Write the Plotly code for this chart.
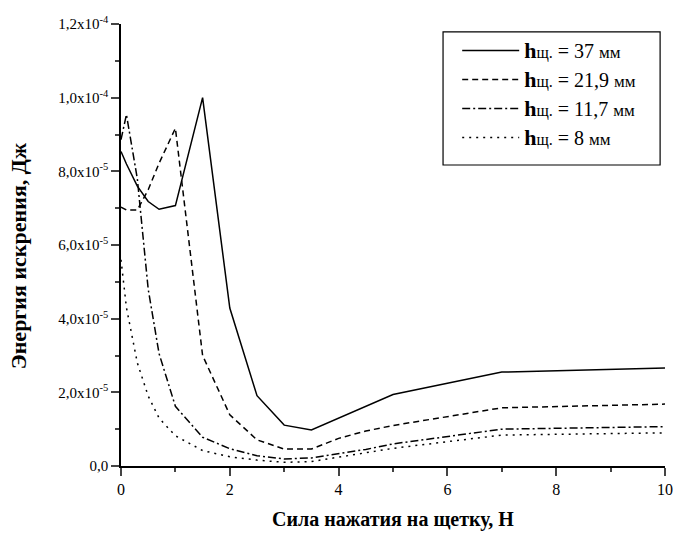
import plotly.graph_objects as go

# Force on brush, N
x_vals = [0, 0.1, 0.3, 0.5, 0.7, 1.0, 1.5, 2.0, 2.5, 3.0, 3.5, 4.0, 4.5, 5.0, 7.0, 10.0]

# Spark energy, J (in units of 1e-5)
h37   = [8.54, 8.2, 7.6, 7.18, 6.97, 7.07, 10.0, 4.29, 1.91, 1.11, 0.98, 1.30, 1.63, 1.94, 2.55, 2.66]
h21_9 = [7.03, 6.95, 6.95, 7.5, 8.22, 9.17, 3.0, 1.39, 0.71, 0.46, 0.46, 0.75, 0.95, 1.10, 1.58, 1.68]
h11_7 = [8.86, 9.54, 7.8, 4.8, 3.05, 1.62, 0.78, 0.47, 0.28, 0.19, 0.22, 0.33, 0.45, 0.60, 1.00, 1.07]
h8    = [5.6, 4.3, 2.8, 1.9, 1.3, 0.82, 0.42, 0.25, 0.16, 0.10, 0.12, 0.24, 0.36, 0.48, 0.84, 0.90]

series_h = ["37", "21,9", "11,7", "8"]
series_vals = [h37, h21_9, h11_7, h8]
dashes = ["solid", "6px,4px", "8px,3px,2px,3px", "2px,5px"]

y_tickvals = [0, 2e-5, 4e-5, 6e-5, 8e-5, 1.0e-4, 1.2e-4]
y_ticktext = ["0,0", "2,0x10<sup>-5</sup>", "4,0x10<sup>-5</sup>", "6,0x10<sup>-5</sup>",
              "8,0x10<sup>-5</sup>", "1,0x10<sup>-4</sup>", "1,2x10<sup>-4</sup>"]
x_tickvals = [0, 2, 4, 6, 8, 10]

FONT = "Liberation Serif, Times New Roman, serif"

fig = go.Figure()
for h, vals, d in zip(series_h, series_vals, dashes):
    label = ("<span style='font-size:22px'><b>h</b></span>"
             "<span style='font-size:16px'>щ.</span> = " + h +
             " <span style='font-size:17px'>мм</span>")
    fig.add_trace(go.Scatter(
        x=x_vals, y=[v * 1e-5 for v in vals], mode="lines",
        line=dict(color="black", width=1.5, dash=d),
        name=label,
    ))

# legend frame
fig.add_shape(type="rect", xref="paper", yref="paper",
              x0=0.592, x1=0.991, y0=0.681, y1=0.982,
              line=dict(color="black", width=1.2), fillcolor="rgba(0,0,0,0)")

fig.update_layout(
    width=673, height=534,
    margin=dict(l=121, r=8, t=24, b=68),
    paper_bgcolor="white", plot_bgcolor="white",
    font=dict(family=FONT, color="black", size=15),
    showlegend=True,
    legend=dict(
        x=0.618, y=0.984, xanchor="left", yanchor="top",
        borderwidth=0, bgcolor="rgba(0,0,0,0)",
        font=dict(family=FONT, size=20, color="black"),
        tracegroupgap=0, itemwidth=57,
    ),
    xaxis=dict(
        range=[0, 10], tickvals=x_tickvals, ticks="outside", ticklen=8,
        tickwidth=1.5, showline=True, linecolor="black", linewidth=1.5,
        showgrid=False, zeroline=False, tickfont=dict(size=16), automargin=False,
        minor=dict(dtick=1, ticks="outside", ticklen=4, tickwidth=1.5, showgrid=False),
    ),
    yaxis=dict(
        range=[0, 1.2e-4], tickvals=y_tickvals, ticktext=y_ticktext, ticks="outside",
        ticklen=8, tickwidth=1.5, showline=True, linecolor="black", linewidth=1.5,
        showgrid=False, zeroline=False, tickfont=dict(size=15), automargin=False,
        minor=dict(tickvals=[1e-5, 3e-5, 5e-5, 7e-5, 9e-5, 1.1e-4], ticks="outside",
                   ticklen=4, tickwidth=1.5, showgrid=False),
    ),
    annotations=[
        dict(text="<b>Сила нажатия на щетку, Н</b>", xref="paper", yref="paper",
             x=0.5, y=-0.122, xanchor="center", yanchor="middle", showarrow=False,
             font=dict(family=FONT, size=20, color="black")),
        dict(text="<b>Энергия искрения, Дж</b>", xref="paper", yref="paper",
             x=-0.189, y=0.475, xanchor="center", yanchor="middle", showarrow=False,
             textangle=-90, font=dict(family=FONT, size=22, color="black")),
    ],
)

fig.write_html("out.html")
